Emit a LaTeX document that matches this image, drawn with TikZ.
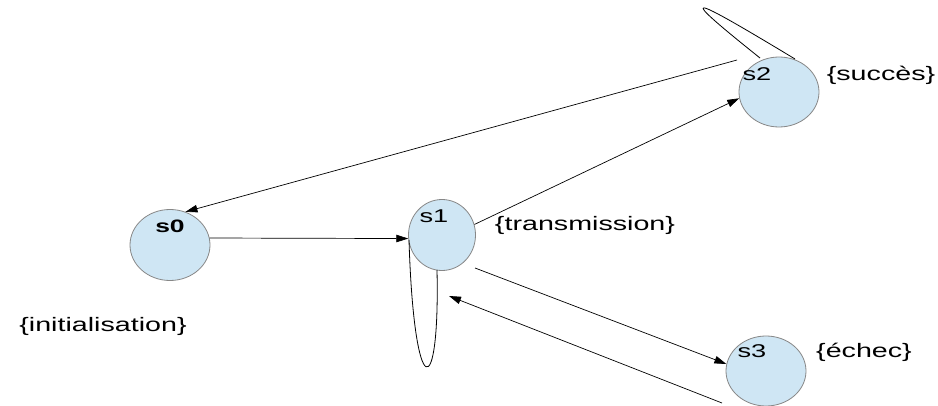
\documentclass[tikz,border=0pt]{standalone}
\usepackage{fontspec}
\setmainfont{Liberation Sans}[FakeStretch=1.47]
\usetikzlibrary{arrows.meta,shapes.geometric}
\definecolor{stfill}{RGB}{207,230,244}
\definecolor{stdraw}{RGB}{135,135,135}
\tikzset{
  st/.style={ellipse, draw=stdraw, fill=stfill, line width=0.8pt, inner sep=0pt},
  slab/.style={font=\fontsize{18.5}{20}\selectfont, inner sep=0pt},
  tag/.style={font=\fontsize{19.5}{22}\selectfont, inner sep=0pt},
  arr/.style={line width=0.7pt, -{Triangle[length=12pt,width=7.5pt]}},
  lp/.style={line width=0.8pt}
}
\begin{document}
\begin{tikzpicture}[x=1pt,y=-1pt]
\path[use as bounding box, fill=white] (0,0) rectangle (938,406);
% states
\node[st, minimum width=80pt, minimum height=71pt] (s0) at (170,245) {};
\node[st, minimum width=67pt, minimum height=71pt] (s1) at (442,235) {};
\node[st, minimum width=80pt, minimum height=70pt] (s2) at (779,92) {};
\node[st, minimum width=80pt, minimum height=70pt] (s3) at (766,371) {};
% state names
\node[slab, font=\fontsize{18}{20}\selectfont\bfseries] (l0) at (170,226) {s0};
\node[slab] (l1) at (434,216) {s1};
\node[slab] (l2) at (757,74) {s2};
\node[slab] (l3) at (752,351) {s3};
% tags
\node[tag] (t0) at (103,326) {\{initialisation\}};
\node[tag] (t1) at (585,225) {\{transmission\}};
\node[tag] (t2) at (881,75) {\{succès\}};
\node[tag] (t3) at (864,352) {\{échec\}};
% free ends
\coordinate (p20) at (737,60);
\coordinate (p13) at (475,268);
\coordinate (p31) at (722,403);
\coordinate (q31) at (449,296);
\coordinate (a2) at (760,58);
\coordinate (b2) at (795,59);
\coordinate (a1) at (409,240);
\coordinate (b1) at (437,270);
% transitions
\draw[arr] (p20) -- (s0.65);
\draw[arr] (s0.10) -- (s1.186);
\draw[arr] (s1.18) -- (s2.189);
\draw[arr] (p13) -- (s3.170);
\draw[arr] (p31) -- (q31);
% loops
\draw[lp] (a1) .. controls (414,404) and (440,404) .. (b1);
\draw[lp] (a2) .. controls (675,-10) and (684,-8) .. (b2);
\end{tikzpicture}
\end{document}
